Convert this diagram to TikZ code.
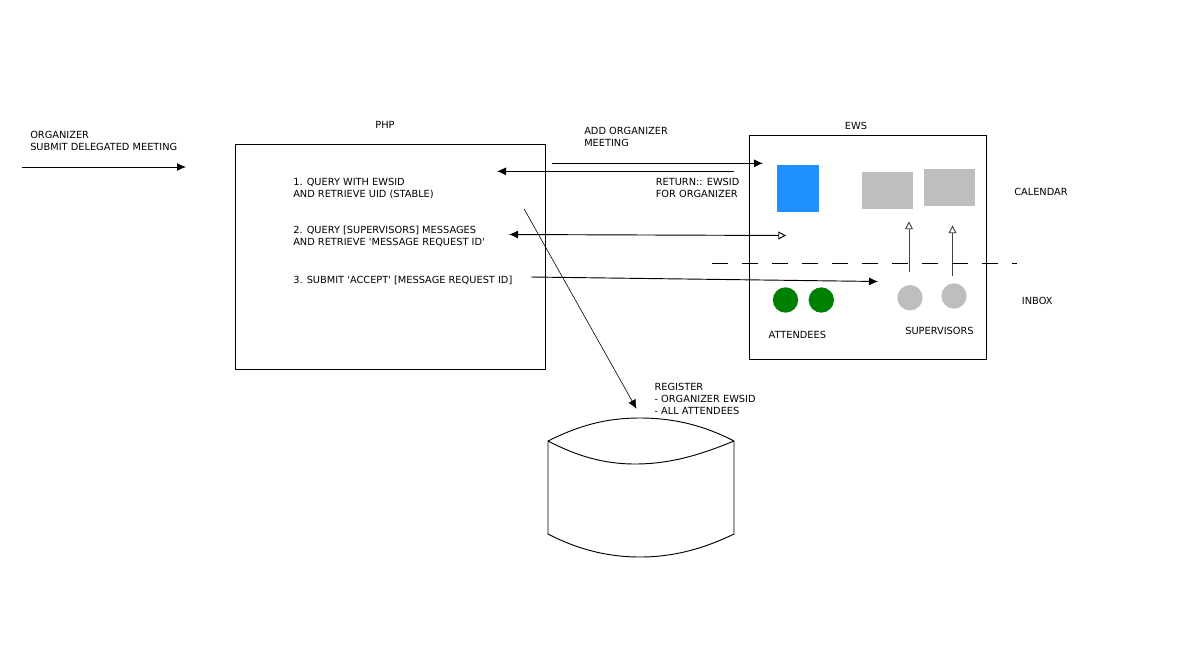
\documentclass[tikz,border=0pt]{standalone}
\usepackage{fontspec}
\setmainfont{DejaVu Sans}
\usetikzlibrary{arrows.meta}
\definecolor{ewsblue}{HTML}{1E90FF}
\definecolor{ewsgrey}{HTML}{BEBEBE}
\definecolor{ewsgreen}{HTML}{008000}
\definecolor{upgrey}{HTML}{404040}
\def\q{\textquotesingle}
\tikzset{
  lbl/.style={inner sep=0pt, align=left, anchor=north west, font=\fontsize{7.35}{9}\selectfont},
  ttl/.style={inner sep=0pt, anchor=north, font=\fontsize{7.35}{9}\selectfont},
  sysbox/.style={draw, rectangle, inner sep=0pt, line width=0.75pt},
  msgbox/.style={rectangle, inner sep=0pt, fill=ewsgrey},
  person/.style={circle, inner sep=0pt, minimum size=19pt},
  fillarr/.style={-{Latex[length=6.75pt,width=6pt]}, line width=0.7pt},
  openarr/.style={-{Triangle[open,length=5.8pt,width=6pt]}, line width=0.7pt},
  split/.style={line width=0.7pt, dash pattern=on 11.8pt off 10.7pt}
}

\begin{document}
\begin{tikzpicture}[x=0.75pt, y=-0.75pt]
\useasboundingbox (0,0) rectangle (1177,664);
%
       \node [lbl] at (30,130.7) (organizer) {ORGANIZER\\SUBMIT DELEGATED MEETING};
          \node [ttl] at (385,121) (php title) {PHP};
             \node [sysbox, minimum width=232.5pt, minimum height=168.75pt] at (390,256.5) (php) {};
              \node [lbl] at (293,177.7) (step one) {1. QUERY WITH EWSID\\AND RETRIEVE UID (STABLE)};
               \node [lbl] at (293,226) (step two) {2. QUERY [SUPERVISORS] MESSAGES\\AND RETRIEVE \q MESSAGE REQUEST ID\q};
                \node [lbl] at (293,275.7) (step three) {3. SUBMIT \q ACCEPT\q\ [MESSAGE REQUEST ID]};
%
       \node [lbl] at (584,127.3) (add meeting) {ADD ORGANIZER\\MEETING};
          \node [lbl] at (655.5,178.3) (return ewsid) {RETURN:: EWSID\\FOR ORGANIZER};
             \node [lbl] at (654.3,383.3) (register) {REGISTER\\- ORGANIZER EWSID\\- ALL ATTENDEES};
%
       \node [ttl] at (856,121.7) (ews title) {EWS};
          \node [sysbox, minimum width=177.75pt, minimum height=168pt] at (868,247.3) (ews) {};
             \node [rectangle, inner sep=0pt, fill=ewsblue, minimum width=31.5pt, minimum height=35pt] at (798,188.5) (organizer cal) {};
              \node [msgbox, minimum width=38.25pt, minimum height=27.75pt] at (887.5,190.5) (sup cal a) {};
               \node [msgbox, minimum width=38.25pt, minimum height=27.75pt] at (949.5,187.5) (sup cal b) {};
                \node [lbl] at (1014,188) (calendar) {CALENDAR};
                \node [person, fill=ewsgreen] at (785.5,300) (att a) {};
                \node [person, fill=ewsgreen] at (821.3,300) (att b) {};
                  \node [person, fill=ewsgrey] at (910,297.7) (sup a) {};
                   \node [person, fill=ewsgrey] at (954,296) (sup b) {};
                    \node [lbl] at (1021.7,297.3) (inbox) {INBOX};
                       \node [lbl] at (768.3,331) (attendees) {ATTENDEES};
                        \node [lbl] at (905,327) (supervisors) {SUPERVISORS};
%
% arrow ends
\coordinate (org a) at (22,167);        \coordinate (org b) at (186,167);
\coordinate (add a) at (552,163.3);     \coordinate (add b) at (763,163.3);
\coordinate (ret a) at (734,171.3);     \coordinate (ret b) at (497,171.3);
\coordinate (msg a) at (509,234.5);     \coordinate (msg b) at (786,235.5);
\coordinate (acc a) at (531,277);       \coordinate (acc b) at (878,281.5);
\coordinate (reg a) at (524.3,209.3);   \coordinate (reg b) at (636.5,408.8);
\coordinate (up a1) at (909,271.7);     \coordinate (up a2) at (909,221.5);
\coordinate (up b1) at (952.5,275.7);   \coordinate (up b2) at (952.5,225.5);
\coordinate (cut a) at (712.3,263.5);   \coordinate (cut b) at (1017,263.5);
%
\path[fillarr] (org a) edge (org b);
\path[fillarr] (add a) edge (add b);
\path[fillarr] (ret a) edge (ret b);
\path[line width=0.7pt, {Latex[length=6.75pt,width=6pt]}-{Triangle[open,length=5.8pt,width=6pt]}] (msg a) edge (msg b);
\path[fillarr] (acc a) edge (acc b);
\path[-{Latex[length=6.75pt,width=6pt]}, line width=0.45pt] (reg a) edge (reg b);
\path[openarr, color=upgrey] (up a1) edge (up a2);
\path[openarr, color=upgrey] (up b1) edge (up b2);
\draw[split] (cut a) -- (cut b);
%
% database
\draw[line width=0.7pt] (548,441) .. controls (578,426) and (605,418) .. (640,418) .. controls (675,418) and (705,426) .. (734,441);
\draw[line width=0.7pt] (548,441) .. controls (575,455) and (602,464) .. (635,464) .. controls (670,464) and (700,455) .. (734,441);
\draw[line width=0.7pt] (548,441) -- (548,534) .. controls (575,548) and (605,557) .. (640,557) .. controls (675,557) and (705,548) .. (734,534) -- (734,441);

\end{tikzpicture}
\end{document}
